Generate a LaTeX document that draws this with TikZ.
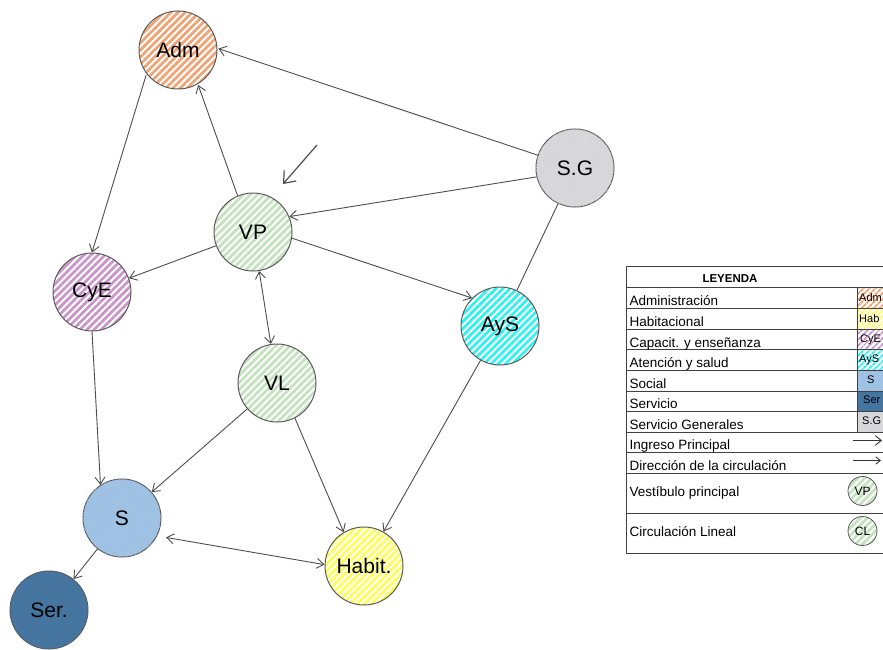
\documentclass[tikz,border=0pt]{standalone}
\usepackage{fontspec}
\setmainfont{Liberation Sans}
\usetikzlibrary{patterns.meta,arrows.meta}

\definecolor{rimgray}{HTML}{5A5A5A}
\definecolor{linkgray}{HTML}{4D4D4D}
\definecolor{admC}{HTML}{F0A273}
\definecolor{habC}{HTML}{FFFF57}
\definecolor{cyeC}{HTML}{C995C9}
\definecolor{aysC}{HTML}{2EF2F2}
\definecolor{vpC}{HTML}{C3E2BE}
\definecolor{sC}{HTML}{A3C6E8}
\definecolor{serC}{HTML}{4778A3}
\definecolor{sgC}{HTML}{DCDCDF}

\tikzset{
  room/.style={circle, draw=rimgray, line width=1pt, minimum size=78pt,
    inner sep=0pt, font=\fontsize{21}{24}\selectfont},
  hatch/.style={preaction={fill=white},
    pattern={Lines[angle=45,distance=5pt,line width=2.7pt]}, pattern color=#1},
  finehatch/.style={fill=#1,
    postaction={pattern={Lines[angle=45,distance=2pt,line width=0.4pt]},
      pattern color=#1!93!black}},
  conn/.style={draw=linkgray, line width=0.9pt, -{Straight Barb[length=7pt,width=10pt,line width=0.9pt]}},
  both/.style={draw=linkgray, line width=0.9pt,
    {Straight Barb[length=7pt,width=10pt,line width=0.9pt]}-{Straight Barb[length=7pt,width=10pt,line width=0.9pt]}},
  plain/.style={draw=linkgray, line width=0.9pt},
  ingreso/.style={draw=linkgray, line width=1.2pt,
    -{Straight Barb[length=10pt,width=16pt,line width=1.2pt]}},
  grid/.style={draw=black!75, line width=0.8pt},
  legtext/.style={anchor=base west, inner sep=0pt, font=\fontsize{13.5}{15}\selectfont},
  celltext/.style={anchor=west, inner sep=0pt, font=\fontsize{11}{13}\selectfont},
  icon/.style={circle, draw=rimgray, line width=0.8pt, minimum size=29pt,
    inner sep=0pt, font=\fontsize{12}{13}\selectfont},
  legarrow/.style={draw=black!80, line width=0.9pt,
    -{Straight Barb[length=#1,width=1.6*#1,line width=0.9pt]}}
}

\begin{document}
\begin{tikzpicture}[x=1pt,y=-1pt]
\useasboundingbox (0,0) rectangle (883,650);
\clip (0,0) rectangle (883,650);

% rooms
\node[room, hatch=admC]      (Adm) at (178,50)  {Adm};
\node[room, hatch=vpC]       (VP)  at (253,232) {VP};
\node[room, finehatch=sgC]   (SG)  at (575,168) {S.G};
\node[room, hatch=cyeC]      (CyE) at (92,292)  {CyE};
\node[room, hatch=aysC]      (AyS) at (500,326) {AyS};
\node[room, hatch=vpC]       (VL)  at (277,383) {VL};
\node[room, finehatch=sC]    (S)   at (122,518) {S};
\node[room, hatch=habC]      (Hab) at (364,566) {Habit.};
\node[room, finehatch=serC]  (Ser) at (49,610)  {Ser.};

% circulation
\draw[conn] (SG.161) -- (Adm.2);
\draw[conn] (Adm.218) -- (CyE.90);
\draw[conn] (VP.113) -- (Adm.300);
\draw[conn] (SG.193) -- (VP.23);
\draw[conn] (VP) -- (CyE);
\draw[conn] (VP.351) -- (AyS.135);
\draw[plain] (SG) -- (AyS);
\draw[both] (VP) -- (VL);
\draw[conn] (CyE.270) -- (S.123);
\draw[conn] (VL) -- (S);
\draw[conn] (VL.297) -- (Hab.121);
\draw[conn] (AyS) -- (Hab);
\draw[both, shorten <=9pt] (S.-27) -- (Hab.178);
\draw[conn] (S) -- (Ser);

% main entrance
\coordinate (ingA) at (317,145);
\coordinate (ingB) at (283,184);
\draw[ingreso] (ingA) -- (ingB);

% legend table
\foreach \r/\c/\t/\tx in {287/admC/Adm/859, 308/habC/Hab/859, 329/cyeC/CyE/860, 349.5/aysC/AyS/859}{
  \fill[white] (857,\r) rectangle (900,\r+20.8);
  \fill[pattern={Lines[angle=45,distance=4pt,line width=2pt]}, pattern color=\c]
    (857,\r) rectangle (900,\r+20.8);
  \node[celltext] at (\tx,\r+10.5) {\t};
}
\fill[finehatch=sC]   (857,370)   rectangle (900,391);
\node[celltext] at (867,379.5) {S};
\fill[finehatch=serC] (857,391)   rectangle (900,411.5);
\node[celltext] at (863,400) {Ser};
\fill[finehatch=sgC]  (857,411.5) rectangle (900,432);
\node[celltext] at (862,420.5) {S.G};

\draw[grid] (626.5,266.5) rectangle (900,553.5);
\foreach \y in {287,308,329,349.5,370,391,411.5,432,452.5,473,513}
  \draw[grid] (626.5,\y) -- (900,\y);
\draw[grid] (857,287) -- (857,432);

\node[font=\bfseries\fontsize{11.5}{13}\selectfont] (title) at (730,279) {LEYENDA};
\node[legtext] (l1) at (629.5,305.5) {Administración};
\node[legtext] (l2) at (629.5,326)   {Habitacional};
\node[legtext] (l3) at (629.5,347)   {Capacit. y enseñanza};
\node[legtext] (l4) at (629.5,367.5) {Atención y salud};
\node[legtext] (l5) at (629.5,388)   {Social};
\node[legtext] (l6) at (629.5,408.5) {Servicio};
\node[legtext] (l7) at (629.5,429)   {Servicio Generales};
\node[legtext] (l8) at (629.5,449.5) {Ingreso Principal};
\node[legtext] (l9) at (629.5,470)   {Dirección de la circulación};
\node[legtext] (l10) at (629.5,496)  {Vestíbulo principal};
\node[legtext] (l11) at (629.5,536)  {Circulación Lineal};

\coordinate (a1s) at (853,440.5);
\coordinate (a1e) at (882,440.5);
\draw[legarrow=6pt] (a1s) -- (a1e);
\coordinate (a2s) at (853,460.5);
\coordinate (a2e) at (881,460.5);
\draw[legarrow=4.5pt] (a2s) -- (a2e);

\node[icon, hatch=vpC] (iVP) at (862.5,491) {VP};
\node[icon, hatch=vpC] (iCL) at (862.5,531) {CL};
\end{tikzpicture}
\end{document}
